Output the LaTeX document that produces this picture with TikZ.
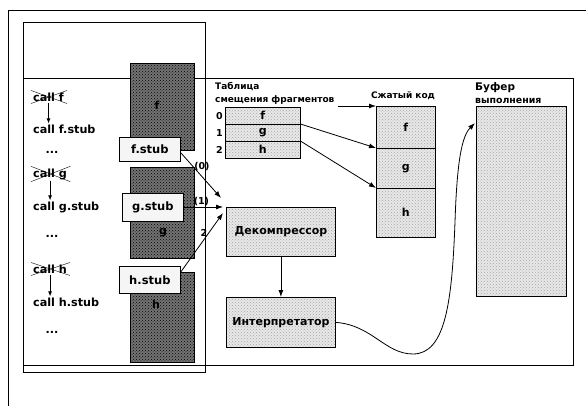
\documentclass[tikz,border=0pt]{standalone}
\usepackage{fontspec}
\setmainfont{DejaVu Sans}
\usetikzlibrary{arrows.meta, positioning, patterns}

\tikzset{
  frame/.style={black, thick},
  lightbox/.style={draw, thick, anchor=north west, inner sep=0pt,
    preaction={fill=gray!18}, pattern=crosshatch dots, pattern color=gray!70},
  darkcol/.style={draw, anchor=north west, inner sep=0pt,
    preaction={fill=black!55}, pattern=crosshatch dots, pattern color=black},
  stubbox/.style={draw, thick, anchor=north west, inner sep=0pt, fill=gray!8,
    font=\bfseries\fontsize{11.5}{14}\selectfont},
  codetxt/.style={font=\bfseries\fontsize{11.2}{13}\selectfont, inner sep=1pt},
  bigtxt/.style={font=\bfseries\fontsize{11}{13}\selectfont, inner sep=1pt},
  headtxt/.style={font=\bfseries\fontsize{9}{13}\selectfont, align=left, inner sep=1pt},
  numtxt/.style={font=\bfseries\fontsize{9.5}{12}\selectfont, inner sep=1pt},
  arr/.style={-{Latex[length=7pt,width=5pt]}, thick}
}

\begin{document}
\begin{tikzpicture}[x=1pt, y=-1pt]
  \useasboundingbox (0,0) rectangle (586,406);

  % outer frame (left and top only)
  \draw[frame] (8,406) -- (8,10) -- (586,10);

  % memory column and the region on its right
  \draw[frame] (23,22) rectangle (205,372);
  \draw[frame] (23,78) -- (573,78) -- (573,365) -- (23,365);

  % compressed fragments in memory
  \node[darkcol, minimum width=64pt, minimum height=87pt] (colf) at (130,63) {};
  \node[darkcol, minimum width=64pt, minimum height=91pt] (colg) at (130,167) {};
  \node[darkcol, minimum width=64pt, minimum height=90pt] (colh) at (130,272) {};
  \node[bigtxt, black] at (157,105) {f};
  \node[bigtxt, black] at (163,233) {g};
  \node[bigtxt, black] at (156,304) {h};

  % stubs
  \node[stubbox, minimum width=61pt, minimum height=24pt] (fstub) at (119,137) {f.stub};
  \node[stubbox, minimum width=61pt, minimum height=28pt] (gstub) at (122,193) {g.stub};
  \node[stubbox, minimum width=61pt, minimum height=27pt] (hstub) at (119,266) {h.stub};

  % calls, rewritten to stubs
  \node[codetxt, anchor=west] (callf) at (32,97) {call f};
  \node[codetxt, anchor=west] (callfs) at (32,129) {call f.stub};
  \node[codetxt] (dots1) at (52,152) {...};
  \node[codetxt, anchor=west] (callg) at (32,174) {call g};
  \node[codetxt, anchor=west] (callgs) at (32,207) {call g.stub};
  \node[codetxt] (dots2) at (52,236) {...};
  \node[codetxt, anchor=west] (callh) at (32,269) {call h};
  \node[codetxt, anchor=west] (callhs) at (32,302) {call h.stub};
  \node[codetxt] (dots3) at (52,332) {...};
  \foreach \c in {callf, callg, callh} {
    \draw[thin] ([xshift=-1pt,yshift=-1pt]\c.south west) -- ([xshift=2pt,yshift=1pt]\c.north east);
    \draw[thin] ([xshift=-1pt,yshift=1pt]\c.north west) -- ([xshift=2pt,yshift=-1pt]\c.south east);
  }
  \draw[-{Latex[length=5pt,width=4pt]}, thick] (callf.south) -- (callf.south |- callfs.north);
  \draw[-{Latex[length=5pt,width=4pt]}, thick] (callg.south) -- (callg.south |- callgs.north);
  \draw[-{Latex[length=5pt,width=4pt]}, thick] (callh.south) -- (callh.south |- callhs.north);

  % decompressor and interpreter
  \node[lightbox, minimum width=109pt, minimum height=49pt, bigtxt] (dec) at (226,207) {Декомпрессор};
  \node[lightbox, minimum width=109pt, minimum height=50pt, bigtxt] (interp) at (226,297) {Интерпретатор};
  \draw[arr] (dec) -- (interp);

  % calls from the stubs
  \coordinate (in0) at (221,198);
  \coordinate (in1) at (223,207);
  \coordinate (in2) at (223,213);
  \draw[arr] ([yshift=9pt]fstub.south east) -- (in0)
    node[pos=0.3, right, numtxt] {(0)};
  \draw[arr] (gstub.east |- in1) -- (in1)
    node[pos=0.45, above, numtxt] {(1)};
  \draw[arr] ([yshift=-6pt]hstub.north east) -- (in2)
    node[pos=0.66, left, numtxt] {2};

  % fragment offset table
  \node[headtxt, anchor=south west] (tblhead) at (214,106) {Таблица\\смещения фрагментов};
  \node[lightbox, thin, minimum width=75pt, minimum height=17pt, bigtxt] (row0) at (225,107) {f};
  \node[lightbox, thin, minimum width=75pt, minimum height=17pt, bigtxt] (row1) at (225,124) {g};
  \node[lightbox, thin, minimum width=75pt, minimum height=17pt, bigtxt] (row2) at (225,141) {h};
  \node[numtxt, left=1pt of row0] (idx0) {0};
  \node[numtxt, left=1pt of row1] (idx1) {1};
  \node[numtxt, left=1pt of row2] (idx2) {2};

  % compressed code
  \node[headtxt, anchor=south] (codehead) at (403,101) {Сжатый код};
  \node[lightbox, thin, minimum width=59pt, minimum height=42pt, bigtxt] (cf) at (376,106) {f};
  \node[lightbox, thin, minimum width=59pt, minimum height=40pt, bigtxt] (cg) at (376,148) {g};
  \node[lightbox, thin, minimum width=59pt, minimum height=49pt, bigtxt] (ch) at (376,188) {h};
  \draw[arr] ([xshift=2pt]tblhead.south east) -- (cf.north west);
  \draw[arr] (row1.north east) -- (cg.north west);
  \draw[arr] (row2.north east) -- (ch.north west);

  % execution buffer
  \node[headtxt, anchor=south west] (bufhead) at (474,105) {\fontsize{10.5}{13}\selectfont Буфер\\\fontsize{9.4}{13}\selectfont выполнения};
  \node[lightbox, thin, minimum width=90pt, minimum height=190pt] (buf) at (476,106) {};
  \coordinate (bufin) at (475,123);
  \draw[arr] (interp.east) .. controls (372,325) and (385,354) .. (413,354)
    .. controls (446,354) and (452,300) .. (455,222)
    .. controls (457,160) and (462,136) .. (bufin);
\end{tikzpicture}
\end{document}
